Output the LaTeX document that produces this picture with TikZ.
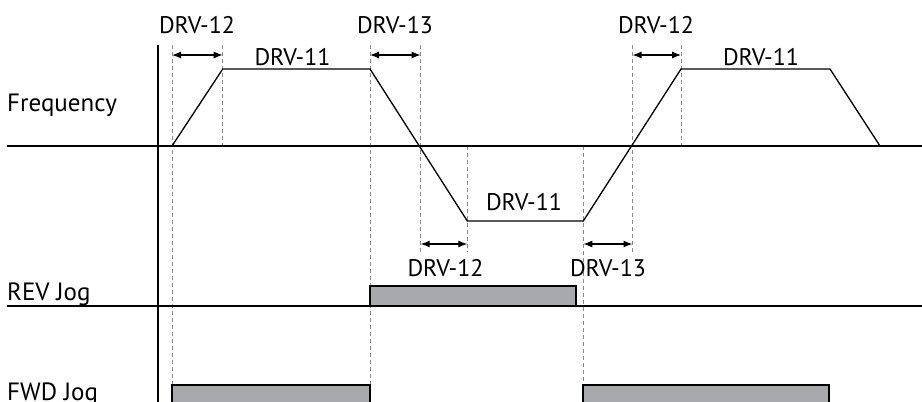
\documentclass[tikz,border=0pt]{standalone}
\usepackage{fontspec}
\setmainfont{PT Sans}
\usetikzlibrary{arrows.meta}
\definecolor{jog}{HTML}{A7A9AC}
\definecolor{guidegray}{HTML}{8A8A8A}
\begin{document}
\begin{tikzpicture}[x=1pt,y=-1pt,
  axis/.style={line width=1.8pt},
  sig/.style={line width=1.3pt, line join=miter},
  guide/.style={draw=guidegray, line width=0.8pt, dash pattern=on 4pt off 3pt},
  span/.style={line width=1.2pt, {Latex[length=9pt,width=7pt]}-{Latex[length=9pt,width=7pt]}},
  lbl/.style={font=\fontsize{24}{28}\selectfont, inner sep=0pt, anchor=base},
  lblw/.style={font=\fontsize{25}{29}\selectfont, inner sep=0pt, anchor=base west},
  pulse/.style={fill=jog, draw=black, line width=1.2pt}]
\useasboundingbox (0,0) rectangle (922,402);

% key coordinates
\coordinate (A0) at (172,146);  \coordinate (Atop) at (172,45);  \coordinate (Abot) at (172,385);
\coordinate (B1) at (222.7,69); \coordinate (Btop) at (222.7,45); \coordinate (Bbot) at (222.7,146);
\coordinate (C1) at (370,69);   \coordinate (Ctop) at (370,45);  \coordinate (Cbot) at (370,385);
\coordinate (Dtop) at (420.7,45); \coordinate (Dbot) at (420.7,252);
\coordinate (E1) at (467.3,221); \coordinate (Etop) at (467.3,146); \coordinate (Ebot) at (467.3,252);
\coordinate (F1) at (583.3,221); \coordinate (Ftop) at (583.3,146); \coordinate (Fbot) at (583.3,385);
\coordinate (Gtop) at (632.5,45); \coordinate (Gbot) at (632.5,252);
\coordinate (H1) at (681,69);   \coordinate (Htop) at (681,45);  \coordinate (Hbot) at (681,146);
\coordinate (I1) at (830,69);
\coordinate (J0) at (880,146);

% dashed guides
\draw[guide] (Atop) -- (Abot);
\draw[guide] (Btop) -- (Bbot);
\draw[guide] (Ctop) -- (Cbot);
\draw[guide] (Dtop) -- (Dbot);
\draw[guide] (Etop) -- (Ebot);
\draw[guide] (Ftop) -- (Fbot);
\draw[guide] (Gtop) -- (Gbot);
\draw[guide] (Htop) -- (Hbot);

% axes
\coordinate (Vtop) at (158,45); \coordinate (Vbot) at (158,402);
\coordinate (Fl) at (7,146); \coordinate (Fr) at (922,146);
\coordinate (Rl) at (7,306); \coordinate (Rr) at (922,306);
\draw[axis] (Vtop) -- (Vbot);
\draw[axis] (Fl) -- (Fr);

% frequency profile
\draw[sig] (A0) -- (B1) -- (C1) -- (E1) -- (F1) -- (H1) -- (I1) -- (J0);

% time spans
\coordinate (s1a) at (172,55);   \coordinate (s1b) at (222.7,55);
\coordinate (s2a) at (370,55);   \coordinate (s2b) at (420.7,55);
\coordinate (s3a) at (632.5,55); \coordinate (s3b) at (681,55);
\coordinate (s4a) at (420.7,244); \coordinate (s4b) at (467.3,244);
\coordinate (s5a) at (583.3,244); \coordinate (s5b) at (632.5,244);
\draw[span] (s1a) -- (s1b);
\draw[span] (s2a) -- (s2b);
\draw[span] (s3a) -- (s3b);
\draw[span] (s4a) -- (s4b);
\draw[span] (s5a) -- (s5b);

% jog pulses
\draw[pulse] (370,286) rectangle (576,306);
\draw[pulse] (172,385) rectangle (370,412);
\draw[pulse] (583,385) rectangle (829,412);
\draw[axis] (Rl) -- (Rr);

% labels
\node[lbl] (t1) at (197,33.3) {DRV-12};
\node[lbl] (t2) at (395,33.3) {DRV-13};
\node[lbl] (t3) at (656,33.3) {DRV-12};
\node[lbl] (t4) at (292.5,65) {DRV-11};
\node[lbl] (t5) at (761,65) {DRV-11};
\node[lbl] (t6) at (524,210.7) {DRV-11};
\node[lbl] (t7) at (445.5,276) {DRV-12};
\node[lbl] (t8) at (608,276) {DRV-13};
\node[lblw] (l1) at (7,111.7) {Frequency};
\node[lblw] (l2) at (7,300) {REV Jog};
\node[lblw] (l3) at (7,400.5) {FWD Jog};
\end{tikzpicture}
\end{document}
